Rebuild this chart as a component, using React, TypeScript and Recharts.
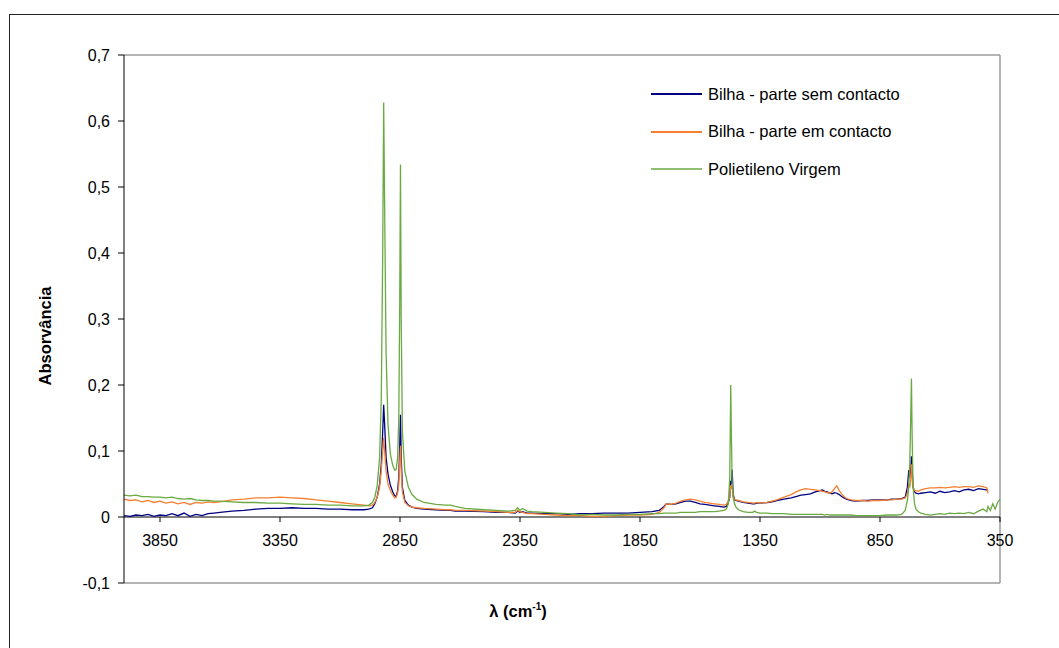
import { LineChart, Line, XAxis, YAxis, ReferenceLine, Legend } from "recharts";

// wavenumber (cm-1), denser around the peaks
const wavenumbers = [
  4000, 3975, 3950, 3925, 3900, 3875, 3850, 3825, 3800, 3775,
  3750, 3725, 3700, 3675, 3650, 3625, 3600, 3550, 3500, 3450,
  3400, 3350, 3300, 3250, 3200, 3150, 3100, 3050, 3000, 2980,
  2965, 2955, 2945, 2935, 2928, 2922, 2918, 2914, 2908, 2900,
  2890, 2880, 2872, 2866, 2860, 2855, 2851, 2848, 2845, 2840,
  2830, 2815, 2800, 2780, 2750, 2700, 2660, 2640, 2620, 2580,
  2500, 2450, 2400, 2370, 2360, 2350, 2340, 2320, 2300, 2250,
  2200, 2150, 2100, 2050, 2000, 1950, 1900, 1850, 1800, 1770,
  1750, 1740, 1720, 1700, 1680, 1660, 1640, 1620, 1600, 1580,
  1560, 1540, 1520, 1500, 1490, 1482, 1476, 1472, 1469, 1466,
  1462, 1456, 1450, 1440, 1420, 1400, 1380, 1372, 1365, 1350,
  1320, 1300, 1280, 1250, 1220, 1200, 1180, 1160, 1140, 1120,
  1100, 1090, 1080, 1070, 1060, 1050, 1040, 1030, 1020, 1010,
  1000, 990, 970, 950, 920, 900, 880, 850, 820, 800,
  780, 760, 745, 736, 730, 726, 722, 719, 716, 712,
  706, 700, 690, 680, 660, 640, 620, 600, 580, 560,
  540, 520, 500, 480, 460, 440, 420, 405, 400, 390,
  380, 370, 360, 350,
];

const semContacto = [
  0.002, 0.001, 0.003, 0.002, 0.004, 0.001, 0.003, 0.002, 0.005, 0.002,
  0.006, 0.001, 0.004, 0.002, 0.005, 0.006, 0.007, 0.009, 0.010, 0.012,
  0.013, 0.013, 0.014, 0.013, 0.013, 0.012, 0.012, 0.011, 0.011, 0.012,
  0.014, 0.020, 0.030, 0.050, 0.080, 0.130, 0.170, 0.140, 0.090, 0.065,
  0.048, 0.038, 0.032, 0.031, 0.040, 0.060, 0.110, 0.155, 0.090, 0.045,
  0.025, 0.018, 0.015, 0.013, 0.012, 0.011, 0.010, 0.010, 0.009, 0.009,
  0.008, 0.007, 0.007, 0.006, 0.009, 0.007, 0.008, 0.006, 0.006, 0.005,
  0.005, 0.004, 0.005, 0.005, 0.006, 0.006, 0.006, 0.007, 0.008, 0.010,
  0.016, 0.020, 0.019, 0.020, 0.022, 0.024, 0.024, 0.022, 0.020, 0.019,
  0.018, 0.017, 0.016, 0.015, 0.016, 0.022, 0.030, 0.055, 0.050, 0.072,
  0.035, 0.026, 0.025, 0.024, 0.022, 0.021, 0.020, 0.020, 0.021, 0.021,
  0.022, 0.023, 0.025, 0.027, 0.029, 0.031, 0.033, 0.034, 0.035, 0.038,
  0.040, 0.041, 0.039, 0.038, 0.036, 0.035, 0.037, 0.036, 0.034, 0.031,
  0.029, 0.027, 0.025, 0.024, 0.025, 0.025, 0.026, 0.026, 0.026, 0.027,
  0.027, 0.028, 0.030, 0.045, 0.071, 0.060, 0.070, 0.092, 0.070, 0.045,
  0.038, 0.036, 0.035, 0.036, 0.037, 0.038, 0.036, 0.039, 0.037, 0.038,
  0.040, 0.038, 0.041, 0.042, 0.040, 0.043, 0.042, 0.041, 0.040, null,
  null, null, null, null,
];

const emContacto = [
  0.027, 0.025, 0.026, 0.023, 0.025, 0.022, 0.024, 0.021, 0.023, 0.020,
  0.022, 0.019, 0.022, 0.021, 0.023, 0.022, 0.023, 0.026, 0.027, 0.029,
  0.029, 0.030, 0.029, 0.028, 0.026, 0.024, 0.022, 0.020, 0.018, 0.017,
  0.018, 0.022, 0.030, 0.045, 0.070, 0.100, 0.120, 0.100, 0.070, 0.050,
  0.040, 0.033, 0.029, 0.030, 0.036, 0.050, 0.085, 0.108, 0.070, 0.038,
  0.022, 0.017, 0.015, 0.014, 0.013, 0.012, 0.011, 0.011, 0.010, 0.010,
  0.009, 0.008, 0.007, 0.007, 0.010, 0.008, 0.007, 0.005, 0.005, 0.004,
  0.003, 0.002, 0.002, 0.001, 0.001, 0.002, 0.003, 0.003, 0.004, 0.007,
  0.014, 0.020, 0.019, 0.021, 0.024, 0.026, 0.027, 0.026, 0.024, 0.022,
  0.021, 0.020, 0.019, 0.018, 0.019, 0.025, 0.030, 0.048, 0.045, 0.050,
  0.030, 0.027, 0.026, 0.025, 0.023, 0.022, 0.021, 0.021, 0.022, 0.021,
  0.022, 0.024, 0.026, 0.030, 0.034, 0.038, 0.041, 0.043, 0.042, 0.041,
  0.040, 0.039, 0.038, 0.037, 0.036, 0.038, 0.043, 0.047, 0.040, 0.035,
  0.031, 0.028, 0.026, 0.025, 0.025, 0.024, 0.025, 0.025, 0.026, 0.026,
  0.027, 0.027, 0.029, 0.035, 0.050, 0.045, 0.055, 0.080, 0.060, 0.045,
  0.040, 0.040, 0.039, 0.041, 0.043, 0.044, 0.044, 0.045, 0.044, 0.045,
  0.046, 0.045, 0.046, 0.046, 0.045, 0.047, 0.046, 0.044, 0.036, null,
  null, null, null, null,
];

const polietileno = [
  0.033, 0.032, 0.033, 0.031, 0.031, 0.030, 0.030, 0.029, 0.030, 0.028,
  0.027, 0.028, 0.026, 0.025, 0.025, 0.024, 0.024, 0.023, 0.022, 0.022,
  0.021, 0.021, 0.020, 0.019, 0.019, 0.018, 0.018, 0.017, 0.017, 0.018,
  0.022, 0.030, 0.048, 0.090, 0.180, 0.400, 0.628, 0.470, 0.250, 0.140,
  0.095, 0.078, 0.071, 0.072, 0.090, 0.150, 0.330, 0.534, 0.300, 0.130,
  0.070, 0.045, 0.034, 0.027, 0.022, 0.019, 0.018, 0.018, 0.016, 0.013,
  0.011, 0.010, 0.009, 0.010, 0.014, 0.010, 0.013, 0.009, 0.008, 0.007,
  0.006, 0.005, 0.003, 0.004, 0.003, 0.003, 0.004, 0.004, 0.005, 0.005,
  0.006, 0.006, 0.006, 0.006, 0.007, 0.007, 0.007, 0.007, 0.008, 0.008,
  0.008, 0.008, 0.009, 0.010, 0.012, 0.020, 0.060, 0.200, 0.120, 0.050,
  0.030, 0.020, 0.015, 0.011, 0.008, 0.007, 0.007, 0.009, 0.007, 0.006,
  0.006, 0.005, 0.005, 0.005, 0.004, 0.004, 0.004, 0.004, 0.004, 0.004,
  0.004, 0.004, 0.003, 0.004, 0.003, 0.003, 0.003, 0.003, 0.003, 0.003,
  0.003, 0.003, 0.003, 0.002, 0.002, 0.002, 0.002, 0.002, 0.003, 0.003,
  0.003, 0.004, 0.010, 0.025, 0.045, 0.080, 0.150, 0.210, 0.120, 0.045,
  0.020, 0.012, 0.008, 0.006, 0.004, 0.003, 0.004, 0.005, 0.004, 0.006,
  0.005, 0.006, 0.005, 0.007, 0.005, 0.009, 0.012, 0.008, 0.016, 0.010,
  0.020, 0.012, 0.022, 0.027,
];

const xTicks = [3850, 3350, 2850, 2350, 1850, 1350, 850, 350];
const yTicks = [-0.1, 0, 0.1, 0.2, 0.3, 0.4, 0.5, 0.6, 0.7];

const SERIES = [
  { key: "sem", name: "Bilha - parte sem contacto", color: "#000080", legendWidth: 2 },
  { key: "em", name: "Bilha - parte em contacto", color: "#F5802F", legendWidth: 2 },
  { key: "pe", name: "Polietileno Virgem", color: "#6AAA42", legendWidth: 1.3 },
];

const FONT = "'Liberation Sans', Arial, sans-serif";
const Y_MIN = -0.1;
const Y_MAX = 0.7;
const PLOT_TOP = 55;
const PLOT_H = 528;
// the x axis crosses at y = 0, not at the bottom of the plot
const ZERO_SHIFT = (PLOT_H * (0 - Y_MIN)) / (Y_MAX - Y_MIN);

const data = wavenumbers.map((wn, i) => ({
  wn,
  sem: semContacto[i],
  em: emContacto[i],
  pe: polietileno[i],
}));

const fmtY = (v: number) => String(Math.round(v * 10) / 10).replace(".", ",");

function XTick(props: any) {
  const { x, y, payload } = props;
  const zy = y - ZERO_SHIFT;
  return (
    <g>
      <line x1={x} x2={x} y1={zy} y2={zy + 5} stroke="#000" />
      <text x={x} y={zy + 23} dy="0.36em" textAnchor="middle" fontSize={16} fill="#000" fontFamily={FONT}>
        {payload.value}
      </text>
    </g>
  );
}

function LegendBox() {
  return (
    <div style={{ fontFamily: FONT, fontSize: 16.5, color: "#000" }}>
      {SERIES.map((s) => (
        <div key={s.key} style={{ display: "flex", alignItems: "center", height: 37.4 }}>
          <svg width={51} height={4} style={{ display: "block" }}>
            <line x1={0} x2={51} y1={2} y2={2} stroke={s.color} strokeWidth={s.legendWidth} />
          </svg>
          <span style={{ marginLeft: 6, whiteSpace: "nowrap" }}>{s.name}</span>
        </div>
      ))}
    </div>
  );
}

export default function App() {
  return (
    <div style={{ position: "absolute", left: 0, top: 0, width: 1059, height: 648, overflow: "hidden", background: "#fff" }}>
      <div style={{ position: "absolute", left: 9, top: 14, width: 1100, height: 700, border: "1px solid #222" }} />
      <div style={{ position: "absolute", left: 0, top: 0 }}>
        <LineChart width={1059} height={648} data={data} margin={{ top: PLOT_TOP, right: 59, bottom: 0, left: 0 }}>
          <XAxis
            dataKey="wn"
            type="number"
            domain={[350, 4000]}
            reversed
            ticks={xTicks}
            interval={0}
            height={65}
            axisLine={false}
            tickLine={false}
            tickSize={0}
            tickMargin={0}
            tick={<XTick />}
          />
          <YAxis
            type="number"
            domain={[Y_MIN, Y_MAX]}
            ticks={yTicks}
            interval={0}
            width={124}
            tickFormatter={fmtY}
            axisLine={{ stroke: "#000" }}
            tickLine={{ stroke: "#000" }}
            tickSize={6}
            tickMargin={8}
            tick={{ fill: "#000", fontSize: 16, fontFamily: FONT }}
          />
          <ReferenceLine y={Y_MAX} stroke="#9b9b9b" strokeWidth={1.5} />
          <ReferenceLine y={Y_MIN} stroke="#9b9b9b" strokeWidth={1.5} />
          <ReferenceLine x={350} stroke="#9b9b9b" strokeWidth={1.5} />
          <ReferenceLine y={0} stroke="#000" />
          <Legend
            layout="vertical"
            align="center"
            verticalAlign="middle"
            wrapperStyle={{ left: 651, top: 75.6, width: 320 }}
            content={<LegendBox />}
          />
          {SERIES.map((s) => (
            <Line
              key={s.key}
              dataKey={s.key}
              name={s.name}
              stroke={s.color}
              strokeWidth={1.3}
              dot={false}
              isAnimationActive={false}
            />
          ))}
        </LineChart>
      </div>
      <svg width={1059} height={648} style={{ position: "absolute", left: 0, top: 0, pointerEvents: "none" }}>
        <text x={45} y={336} transform="rotate(-90 45 336)" textAnchor="middle" dy="0.36em" fontSize={16.5} fontWeight="bold" fontFamily={FONT}>
          Absorvância
        </text>
        <text x={518} y={617} textAnchor="middle" fontSize={16.5} fontWeight="bold" fontFamily={FONT}>
          λ (cm<tspan fontSize={10} dy={-7}>-1</tspan><tspan dy={7}>)</tspan>
        </text>
      </svg>
    </div>
  );
}
